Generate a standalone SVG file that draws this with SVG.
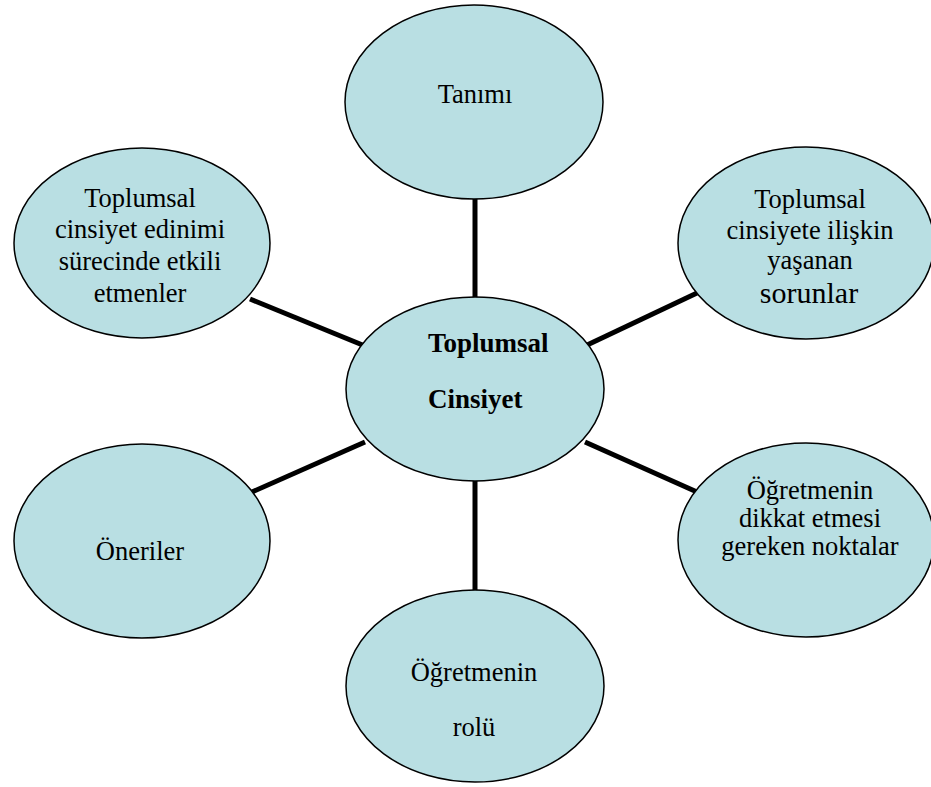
<svg xmlns="http://www.w3.org/2000/svg" width="931" height="787" viewBox="0 0 931 787">
<style>
.n ellipse{fill:#b9dfe3;stroke:#000;stroke-width:1.5}
text{font-family:"Liberation Serif","Times New Roman",serif;font-size:26.5px;fill:#000;text-anchor:middle}
.b{font-weight:bold;text-anchor:start;font-size:27px}
#edges line{stroke:#000;stroke-width:5}
</style>
<rect width="931" height="787" fill="#fff"/>
<g id="edges">
<line x1="475" y1="196" x2="475" y2="300"/>
<line x1="475" y1="478" x2="475" y2="592"/>
<line x1="250" y1="299" x2="365" y2="346"/>
<line x1="585" y1="346" x2="697" y2="293"/>
<line x1="252" y1="492" x2="365" y2="442"/>
<line x1="585" y1="442" x2="697" y2="492"/>
</g>
<g id="center" class="n">
<ellipse cx="475" cy="389" rx="129" ry="92"/>
<text class="b" x="428" y="352">Toplumsal</text>
<text class="b" x="428" y="408">Cinsiyet</text>
</g>
<g id="tanimi" class="n">
<ellipse cx="474" cy="102" rx="129" ry="97"/>
<text x="475" y="103">Tanımı</text>
</g>
<g id="etmenler" class="n">
<ellipse cx="142" cy="243" rx="128" ry="95"/>
<text x="140" y="207">Toplumsal</text>
<text x="140" y="238">cinsiyet edinimi</text>
<text x="140" y="270">sürecinde etkili</text>
<text x="140" y="302">etmenler</text>
</g>
<g id="sorunlar" class="n">
<ellipse cx="806" cy="243" rx="128" ry="96"/>
<text x="810" y="208">Toplumsal</text>
<text x="810" y="239">cinsiyete ilişkin</text>
<text x="810" y="269">yaşanan</text>
<text x="809" y="303" style="font-size:30px">sorunlar</text>
</g>
<g id="oneriler" class="n">
<ellipse cx="142" cy="541" rx="128" ry="97"/>
<text x="140" y="560">Öneriler</text>
</g>
<g id="noktalar" class="n">
<ellipse cx="806" cy="540" rx="128" ry="97"/>
<text x="810" y="499">Öğretmenin</text>
<text x="810" y="527">dikkat etmesi</text>
<text x="810" y="555">gereken noktalar</text>
</g>
<g id="rolu" class="n">
<ellipse cx="475" cy="686" rx="129" ry="96"/>
<text x="474" y="681">Öğretmenin</text>
<text x="474" y="736">rolü</text>
</g>
</svg>
